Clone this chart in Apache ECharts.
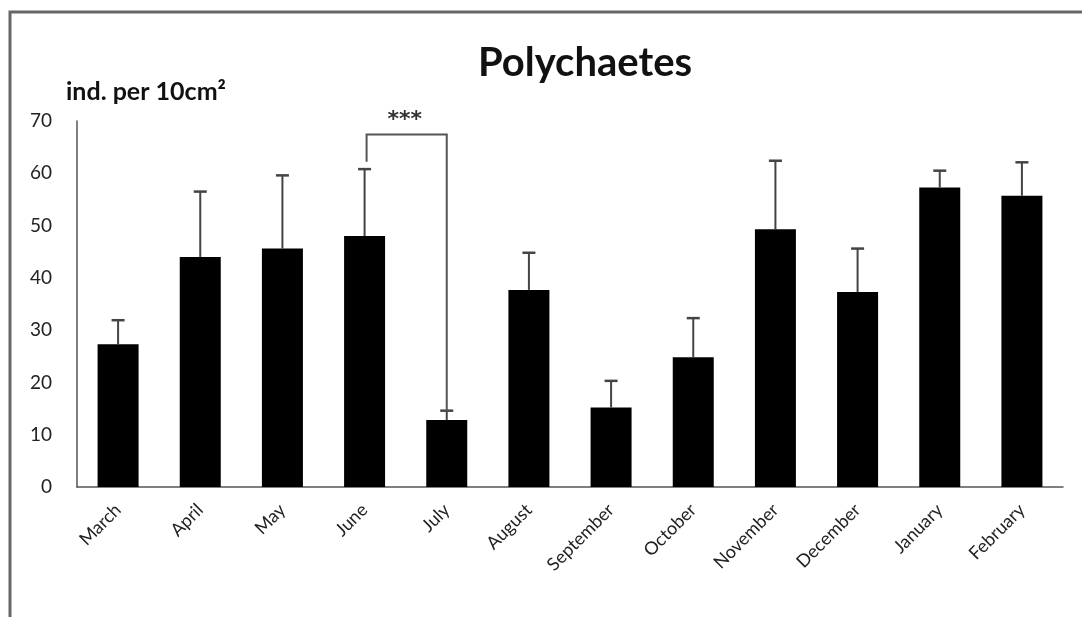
<!DOCTYPE html>
<html>
<head>
<meta charset="utf-8">
<script src="https://cdn.jsdelivr.net/npm/echarts@6/dist/echarts.min.js"></script>
<style>
  html, body { margin: 0; padding: 0; background: #fff; }
  #chart { width: 1082px; height: 617px; }
</style>
</head>
<body>
<div id="chart"></div>
<script>
// Monthly polychaete density (mean and upper error)
var months = ['March', 'April', 'May', 'June', 'July', 'August', 'September', 'October', 'November', 'December', 'January', 'February'];
var means = [27.3, 44.0, 45.6, 48.0, 12.8, 37.7, 15.2, 24.8, 49.3, 37.3, 57.3, 55.7];
var errTops = [31.9, 56.5, 59.6, 60.8, 14.6, 44.8, 20.3, 32.3, 62.4, 45.6, 60.5, 62.1];
var yTicks = [0, 10, 20, 30, 40, 50, 60, 70];

// Significance bracket between June and July
var bracket = { from: 3, to: 4, top: 67.4, leftEnd: 62.2, rightEnd: 14.6, text: '***' };

var chart = echarts.init(document.getElementById('chart'));
var fontFam = 'Lato, "Open Sans", sans-serif';

var errData = months.map(function (m, i) { return [i, means[i], errTops[i]]; });

chart.setOption({
  animation: false,
  backgroundColor: '#ffffff',
  title: {
    text: 'Polychaetes',
    left: 580, top: 38, textAlign: 'center',
    textStyle: { fontFamily: fontFam, fontWeight: 'bold', fontSize: 40, color: '#111' }
  },
  grid: { left: 77, right: 19, top: 121, bottom: 130 },
  xAxis: {
    type: 'category',
    data: months,
    axisLine: { lineStyle: { color: '#555', width: 1.5 } },
    axisTick: { show: false },
    axisLabel: {
      rotate: 45, margin: 20, fontFamily: fontFam, fontSize: 18, color: '#222', interval: 0
    }
  },
  yAxis: {
    type: 'value',
    min: yTicks[0], max: yTicks[yTicks.length - 1], interval: 10,
    splitLine: { show: false },
    axisLine: { show: true, lineStyle: { color: '#555', width: 1.5 } },
    axisTick: { show: false },
    axisLabel: { margin: 25, fontFamily: fontFam, fontSize: 19, color: '#222' }
  },
  graphic: [
    { type: 'polyline', shape: { points: [[10, 617], [10, 12], [1082, 12]] },
      style: { stroke: '#666', lineWidth: 3, fill: null } },
    { type: 'text', left: 66, top: 79,
      style: { text: 'ind. per 10cm²', fontFamily: fontFam, fontWeight: 'bold', fontSize: 25, fill: '#111' } }
  ],
  series: [
    {
      type: 'bar',
      data: means,
      barWidth: 41,
      itemStyle: { color: '#000' },
      z: 2
    },
    {
      type: 'custom',
      data: errData,
      z: 3,
      renderItem: function (params, api) {
        var x = api.value(0);
        var base = api.coord([x, api.value(1)]);
        var top = api.coord([x, api.value(2)]);
        var half = 6.5;
        return {
          type: 'group',
          children: [
            { type: 'line', shape: { x1: base[0], y1: base[1], x2: top[0], y2: top[1] },
              style: { stroke: '#444', lineWidth: 2 } },
            { type: 'line', shape: { x1: top[0] - half, y1: top[1], x2: top[0] + half, y2: top[1] },
              style: { stroke: '#444', lineWidth: 2.5 } }
          ]
        };
      }
    },
    {
      type: 'custom',
      data: [[bracket.from, bracket.to, bracket.top, bracket.leftEnd, bracket.rightEnd]],
      z: 3,
      renderItem: function (params, api) {
        var l = api.coord([api.value(0), api.value(3)]);
        var r = api.coord([api.value(1), api.value(4)]);
        var tl = api.coord([api.value(0), api.value(2)]);
        var tr = api.coord([api.value(1), api.value(2)]);
        var lx = l[0] + 2;
        return {
          type: 'group',
          children: [
            { type: 'polyline', shape: { points: [[lx, l[1]], [lx, tl[1]], [tr[0], tr[1]], [r[0], r[1]]] },
              style: { stroke: '#555', lineWidth: 2, fill: null } },
            { type: 'text', x: (lx + tr[0]) / 2 - 2, y: tl[1] - 3,
              style: { text: bracket.text, fontFamily: '"DejaVu Sans", sans-serif', fontWeight: 'bold',
                       fontSize: 22, fill: '#333', align: 'center', verticalAlign: 'bottom' } }
          ]
        };
      }
    }
  ]
});
</script>
</body>
</html>
